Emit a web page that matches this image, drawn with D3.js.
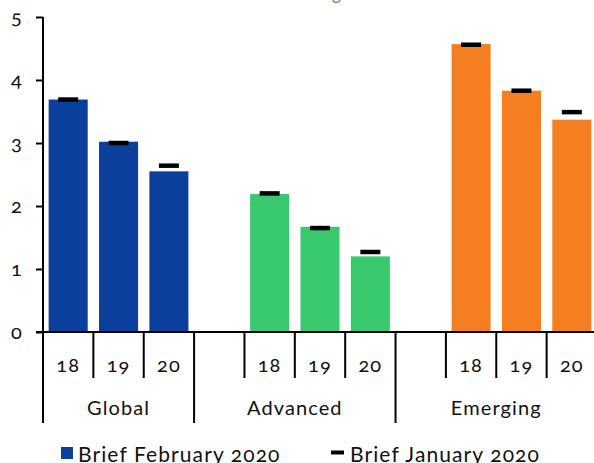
<!DOCTYPE html>
<html>
<head>
<meta charset="utf-8">
<script src="https://cdn.jsdelivr.net/npm/d3@7"></script>
<style>
  body { margin: 0; background: #fff; }
  text { font-family: Lato, "Open Sans", sans-serif; font-weight: 400; fill: #111; letter-spacing: 1.1px; font-variant-numeric: oldstyle-nums; }
</style>
</head>
<body>
<div id="chart"></div>
<script>
// Chart data
var groups = ["Global", "Advanced", "Emerging"];
var years = ["18", "19", "20"];
var febValues = [[3.69, 3.02, 2.55], [2.19, 1.67, 1.20], [4.57, 3.83, 3.37]];
var janValues = [[3.69, 3.00, 2.64], [2.20, 1.65, 1.27], [4.56, 3.83, 3.49]];
var groupColors = ["#0a409b", "#38c96f", "#f57f20"];
var yTicks = [0, 1, 2, 3, 4, 5];
var legendLabels = ["Brief February 2020", "Brief January 2020"];

var svgWidth = 594;
var svgHeight = 463;

var svg = d3.select("#chart")
  .append("svg")
  .attr("width", svgWidth)
  .attr("height", svgHeight);

// Build the slot list: Advanced and Emerging get an empty slot in front
var slots = [];
groups.forEach((g, gi) => {
  if (gi > 0) slots.push(g + "|gap");
  years.forEach(y => slots.push(g + "|" + y));
});

var x = d3.scaleBand()
  .domain(slots)
  .range([43, 597])
  .padding(0);

var y = d3.scaleLinear()
  .domain([0, 5])
  .range([332, 17]);

var bw = x.bandwidth();
var barW = bw * 0.775;

// Title (cut at top)
svg.append("text")
  .attr("x", 312)
  .attr("y", 0)
  .attr("text-anchor", "middle")
  .attr("font-size", "17px")
  .style("fill", "#777")
  .text("% change");

// Bars
var bars = [];
groups.forEach((g, gi) => {
  years.forEach((yr, yi) => {
    bars.push({ key: g + "|" + yr, feb: febValues[gi][yi], jan: janValues[gi][yi], color: groupColors[gi] });
  });
});

svg.append("g").selectAll("rect")
  .data(bars)
  .join("rect")
  .attr("x", d => x(d.key) + (bw - barW) / 2)
  .attr("y", d => y(d.feb))
  .attr("width", barW)
  .attr("height", d => y(0) - y(d.feb))
  .attr("fill", d => d.color);

// January markers
svg.append("g").selectAll("line")
  .data(bars)
  .join("line")
  .attr("x1", d => x(d.key) + bw / 2 - 10)
  .attr("x2", d => x(d.key) + bw / 2 + 10)
  .attr("y1", d => y(d.jan))
  .attr("y2", d => y(d.jan))
  .attr("stroke", "#000")
  .attr("stroke-width", 4.5);

// Y axis
var leftAxis = d3.axisLeft(y)
  .tickValues(yTicks)
  .tickSize(7)
  .tickPadding(13)
  .tickFormat(d3.format("d"));

var yAxis = svg.append("g")
  .attr("transform", "translate(43,0)")
  .call(leftAxis);
yAxis.select(".domain").remove();
yAxis.selectAll("line").attr("stroke", "#000").attr("stroke-width", 2);
yAxis.selectAll("text").attr("font-size", "20px").style("font-family", "Lato, sans-serif");

var axisG = svg.append("g").attr("stroke", "#000").attr("stroke-width", 2);

// vertical axis line
axisG.append("line")
  .attr("x1", 43).attr("x2", 43)
  .attr("y1", y(5)).attr("y2", 423);

// horizontal axis line
axisG.append("line")
  .attr("x1", 36).attr("x2", 597)
  .attr("y1", y(0)).attr("y2", y(0));

// slot ticks
axisG.selectAll(".slot")
  .data(slots)
  .join("line")
  .attr("x1", d => x(d)).attr("x2", d => x(d))
  .attr("y1", y(0)).attr("y2", d => d.endsWith("gap") ? 423 : 378);

// year labels
svg.append("g").selectAll("text")
  .data(bars)
  .join("text")
  .attr("x", d => x(d.key) + bw / 2)
  .attr("y", 372)
  .attr("text-anchor", "middle")
  .attr("font-size", "20px")
  .text(d => d.key.split("|")[1]);

// group labels
var groupStart = groups.map(g => x(g === "Global" ? g + "|18" : g + "|gap"));
var groupEnd = groups.map(g => x(g + "|20") + bw);
svg.append("g").selectAll("text")
  .data(groups)
  .join("text")
  .attr("x", (d, i) => (groupStart[i] + groupEnd[i]) / 2)
  .attr("y", 415)
  .attr("text-anchor", "middle")
  .attr("font-size", "20px")
  .text(d => d);

// Legend
var legend = svg.append("g");
legend.append("rect")
  .attr("x", 61).attr("y", 447)
  .attr("width", 12).attr("height", 12)
  .attr("fill", groupColors[0]);
legend.append("text")
  .attr("x", 78).attr("y", 462)
  .attr("font-size", "21px")
  .text(legendLabels[0]);
legend.append("line")
  .attr("x1", 331).attr("x2", 344)
  .attr("y1", 452.5).attr("y2", 452.5)
  .attr("stroke", "#000").attr("stroke-width", 4);
legend.append("text")
  .attr("x", 350).attr("y", 462)
  .attr("font-size", "21px")
  .text(legendLabels[1]);
</script>
</body>
</html>
